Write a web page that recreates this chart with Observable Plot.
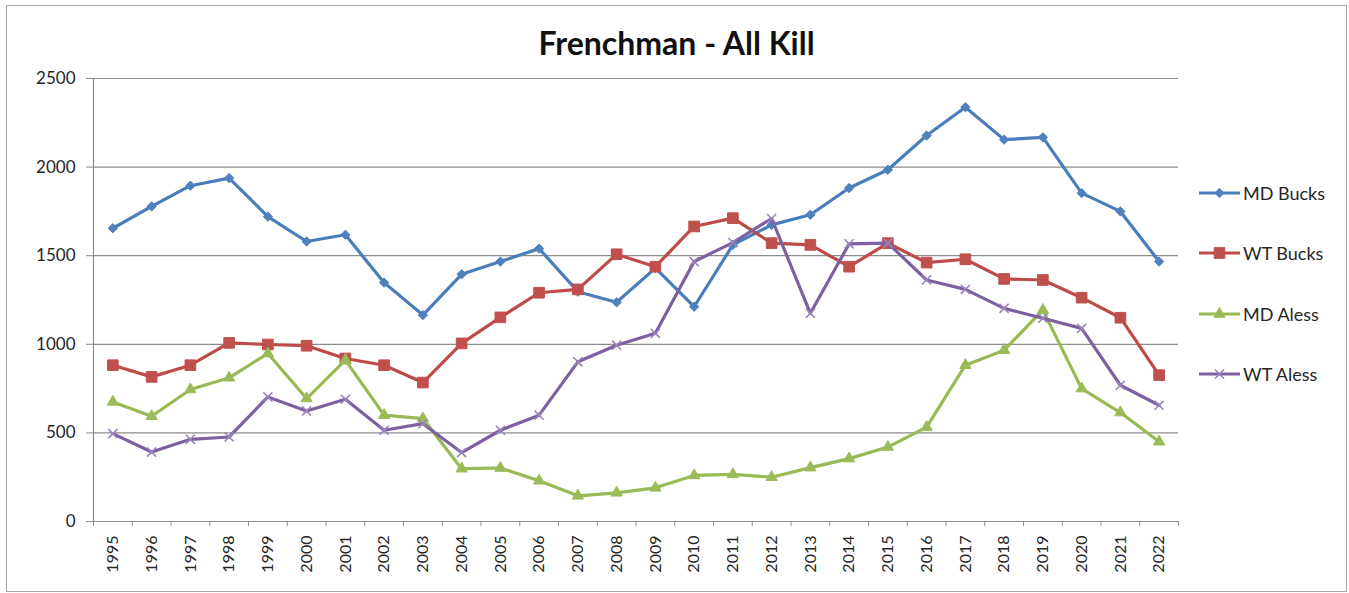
<!DOCTYPE html>
<html>
<head>
<meta charset="utf-8">
<script src="https://cdn.jsdelivr.net/npm/d3@7"></script>
<script src="https://cdn.jsdelivr.net/npm/@observablehq/plot@0.6"></script>
<style>
  body { margin: 0; background: #fff; }
  #wrap { position: relative; width: 1349px; height: 593px; background: #fff; font-family: Lato, "Open Sans", sans-serif; color: #262626; overflow: hidden; }
  #frame { position: absolute; left: 6px; top: 5px; width: 1341px; height: 587px; border: 1px solid #a6a6a6; box-sizing: border-box; }
  #title { position: absolute; left: 6px; width: 1341px; top: 23px; text-align: center; font-weight: bold; font-size: 32px; line-height: normal; color: #111; }
  #chart { position: absolute; left: 0; top: 60px; }
  #legend { position: absolute; left: 1198px; top: 0; }
  .item { position: absolute; left: 0; display: flex; align-items: center; height: 24px; white-space: nowrap; font-size: 18px; color: #262626; }
  .item svg { display: block; margin-right: 2px; }
</style>
</head>
<body>
<div id="wrap">
  <div id="frame"></div>
  <div id="title">Frenchman - All Kill</div>
  <div id="chart"></div>
  <div id="legend"></div>
</div>
<script>
const years = [1995,1996,1997,1998,1999,2000,2001,2002,2003,2004,2005,2006,2007,2008,2009,2010,2011,2012,2013,2014,2015,2016,2017,2018,2019,2020,2021,2022];
const seriesNames = ["MD Bucks", "WT Bucks", "MD Aless", "WT Aless"];
const mdBucks = [1655,1778,1895,1938,1721,1580,1618,1348,1165,1395,1467,1540,1297,1237,1430,1212,1561,1674,1731,1882,1985,2178,2338,2155,2168,1853,1750,1467];
const wtBucks = [882,816,882,1008,999,992,920,882,784,1005,1152,1291,1310,1508,1438,1665,1712,1571,1561,1438,1571,1461,1480,1369,1363,1263,1150,826];
const mdAless = [675,594,745,811,948,694,911,600,581,298,302,230,145,162,190,260,266,250,304,355,420,533,882,967,1193,750,615,450];
const wtAless = [496,392,464,477,703,624,690,515,552,389,515,600,901,995,1062,1467,1574,1710,1175,1567,1571,1363,1310,1203,1147,1090,769,656];
const yTicks = [0, 500, 1000, 1500, 2000, 2500];

const seriesValues = [mdBucks, wtBucks, mdAless, wtAless];
const lineColors = ["#4A7EBB", "#BE4B48", "#98B954", "#7D60A0"];
const markerColors = ["#4F81BD", "#C0504D", "#9BBB59", "#8064A2"];
const symbols = ["diamond2", "square", "triangle", "times"];
const radii = [4.2, 6.0, 4.2, 4.2];

const series = seriesNames.map((name, i) => ({
  name,
  rows: years.map((year, j) => ({ year, value: seriesValues[i][j], name }))
}));

const boundaries = years.map(y => y - 0.5).concat([years[years.length - 1] + 0.5]);
const grid = "#8c8c8c";

const marks = [
  Plot.ruleY(yTicks.filter(t => t > 0), { stroke: grid, strokeWidth: 1.2 }),
  Plot.ruleY([0], { stroke: grid, strokeWidth: 1.2 }),
  Plot.ruleX([boundaries[0]], { stroke: grid, strokeWidth: 1.2 }),
  Plot.axisY({ ticks: yTicks, tickSize: 7, tickPadding: 11, fontSize: 17, stroke: grid, label: null, tickFormat: d => String(d) }),
  Plot.axisX({ ticks: boundaries, tickSize: 5, tickFormat: () => "", stroke: grid, label: null }),
  Plot.axisX({ ticks: years, tickSize: 0, tickPadding: 14, tickRotate: -90, fontSize: 16, label: null, tickFormat: d => String(d) })
];

series.forEach((s, i) => {
  marks.push(Plot.line(s.rows, { x: "year", y: "value", stroke: lineColors[i], strokeWidth: 3.2, strokeLinejoin: "round", strokeLinecap: "round" }));
  if (symbols[i] === "times") {
    marks.push(Plot.dot(s.rows, { x: "year", y: "value", symbol: "times", r: radii[i], stroke: "#9A84BC", strokeWidth: 1.6, fill: "none" }));
  } else {
    marks.push(Plot.dot(s.rows, { x: "year", y: "value", symbol: symbols[i], r: radii[i], fill: markerColors[i], stroke: markerColors[i], strokeWidth: 1 }));
  }
});

const chart = Plot.plot({
  width: 1349,
  height: 531,
  marginLeft: 93,
  marginRight: 171,
  marginTop: 18,
  marginBottom: 70,
  style: { fontFamily: "Lato, 'Open Sans', sans-serif", color: "#262626", background: "transparent", overflow: "visible" },
  x: { type: "linear", domain: [boundaries[0], boundaries[boundaries.length - 1]], axis: null },
  y: { domain: [0, 2500], axis: null },
  marks
});
document.getElementById("chart").appendChild(chart);

// Legend
const legend = document.getElementById("legend");
const rowCenters = [193, 253, 314, 374];
const symbolMap = { diamond2: d3.symbolDiamond2, square: d3.symbolSquare, triangle: d3.symbolTriangle, times: d3.symbolTimes };
seriesNames.forEach((name, i) => {
  const item = document.createElement("div");
  item.className = "item";
  item.style.top = (rowCenters[i] - 12) + "px";
  const w = 43, h = 16;
  const svg = d3.create("svg").attr("width", w).attr("height", h);
  svg.append("line").attr("x1", 1).attr("x2", w - 1).attr("y1", h / 2).attr("y2", h / 2)
    .attr("stroke", lineColors[i]).attr("stroke-width", 3.2);
  const r = radii[i];
  const path = d3.symbol(symbolMap[symbols[i]], r * r * Math.PI)();
  const p = svg.append("path").attr("d", path).attr("transform", `translate(${w / 2},${h / 2})`);
  if (symbols[i] === "times") p.attr("fill", "none").attr("stroke", "#9A84BC").attr("stroke-width", 1.6);
  else p.attr("fill", markerColors[i]).attr("stroke", markerColors[i]);
  item.appendChild(svg.node());
  const span = document.createElement("span");
  span.textContent = name;
  item.appendChild(span);
  legend.appendChild(item);
});
</script>
</body>
</html>
